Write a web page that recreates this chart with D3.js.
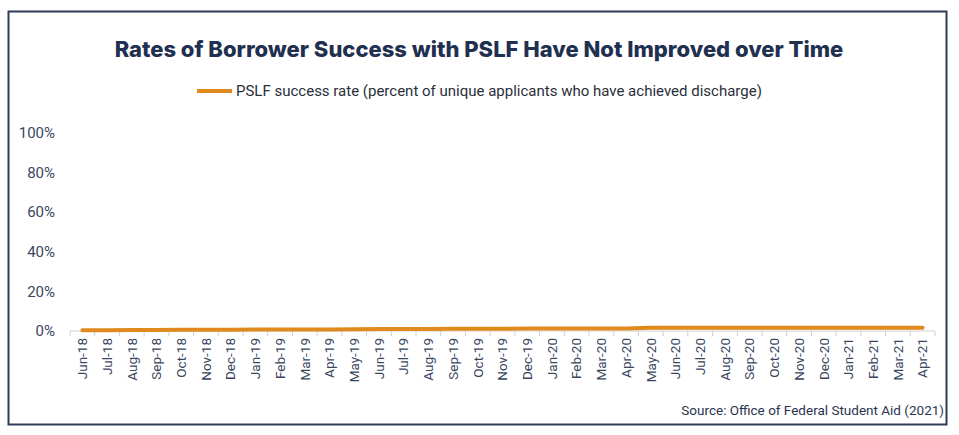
<!DOCTYPE html>
<html><head><meta charset="utf-8">
<script src="https://cdn.jsdelivr.net/npm/d3@7"></script>
<style>html,body{margin:0;padding:0;background:#fff;}svg{display:block;}</style>
</head><body>
<script>
const months = ["Jun-18","Jul-18","Aug-18","Sep-18","Oct-18","Nov-18","Dec-18","Jan-19","Feb-19","Mar-19","Apr-19","May-19","Jun-19","Jul-19","Aug-19","Sep-19","Oct-19","Nov-19","Dec-19","Jan-20","Feb-20","Mar-20","Apr-20","May-20","Jun-20","Jul-20","Aug-20","Sep-20","Oct-20","Nov-20","Dec-20","Jan-21","Feb-21","Mar-21","Apr-21"];
const successRate = [0.4,0.4,0.5,0.5,0.6,0.6,0.6,0.7,0.7,0.7,0.8,0.9,1.0,1.0,1.0,1.1,1.1,1.1,1.2,1.2,1.2,1.2,1.3,1.7,1.7,1.7,1.7,1.7,1.7,1.7,1.7,1.7,1.7,1.7,1.7];
const yTicks = [0,20,40,60,80,100];
const title = "Rates of Borrower Success with PSLF Have Not Improved over Time";
const legendLabel = "PSLF success rate (percent of unique applicants who have achieved discharge)";
const source = "Source: Office of Federal Student Aid (2021)";

const W = 959, H = 435;
const navy = "#1f3050", orange = "#E08A1E";
const svg = d3.select("body").append("svg").attr("width", W).attr("height", H);

svg.append("rect").attr("x", 8.5).attr("y", 11.5).attr("width", 938).attr("height", 413)
  .attr("fill", "#fff").attr("stroke", "#2c3b57").attr("stroke-width", 2);

svg.append("text").attr("x", 479).attr("y", 57).attr("text-anchor", "middle")
  .attr("font-family", "Inter, 'Noto Sans', sans-serif").attr("font-weight", 800)
  .attr("font-size", 22).attr("fill", navy).text(title);

svg.append("line").attr("x1", 197).attr("x2", 232).attr("y1", 91).attr("y2", 91)
  .attr("stroke", orange).attr("stroke-width", 4);
svg.append("text").attr("x", 236).attr("y", 96)
  .attr("font-family", "Roboto, sans-serif").attr("font-size", 15).attr("fill", "#2a2f3a").text(legendLabel);

const x = d3.scaleBand().domain(months).range([70, 935]);
const y = d3.scaleLinear().domain([0, 100]).range([331, 133]);

svg.append("g").selectAll("text").data(yTicks).join("text")
  .attr("x", 55).attr("y", d => y(d)).attr("dy", "0.35em").attr("text-anchor", "end")
  .attr("font-family", "Roboto, sans-serif").attr("font-size", 15).attr("fill", "#3a4660")
  .text(d => d + "%");

const gx = svg.append("g").attr("transform", "translate(0,331)");
gx.append("line").attr("x1", 70).attr("x2", 935).attr("stroke", "#cfcfcf").attr("stroke-width", 1);
const bounds = months.map(m => x(m)).concat([x.range()[1]]);
gx.selectAll("line.t").data(bounds).join("line").attr("class", "t")
  .attr("x1", d => d).attr("x2", d => d).attr("y1", 0).attr("y2", 5)
  .attr("stroke", "#cfcfcf");
gx.selectAll("text").data(months).join("text")
  .attr("transform", d => `translate(${x(d) + x.bandwidth() / 2},7) rotate(-90)`)
  .attr("text-anchor", "end").attr("dy", "0.35em")
  .attr("font-family", "Roboto, sans-serif").attr("font-size", 13.5).attr("fill", "#3a4660")
  .text(d => d);

const line = d3.line().x((d, i) => x(months[i]) + x.bandwidth() / 2).y(d => y(d));
svg.append("path").datum(successRate).attr("d", line).attr("fill", "none")
  .attr("stroke", orange).attr("stroke-width", 4).attr("stroke-linecap", "round");

svg.append("text").attr("x", 944).attr("y", 415).attr("text-anchor", "end")
  .attr("font-family", "Roboto, sans-serif").attr("font-size", 13.5).attr("fill", "#2a3550").text(source);
</script>
</body></html>
